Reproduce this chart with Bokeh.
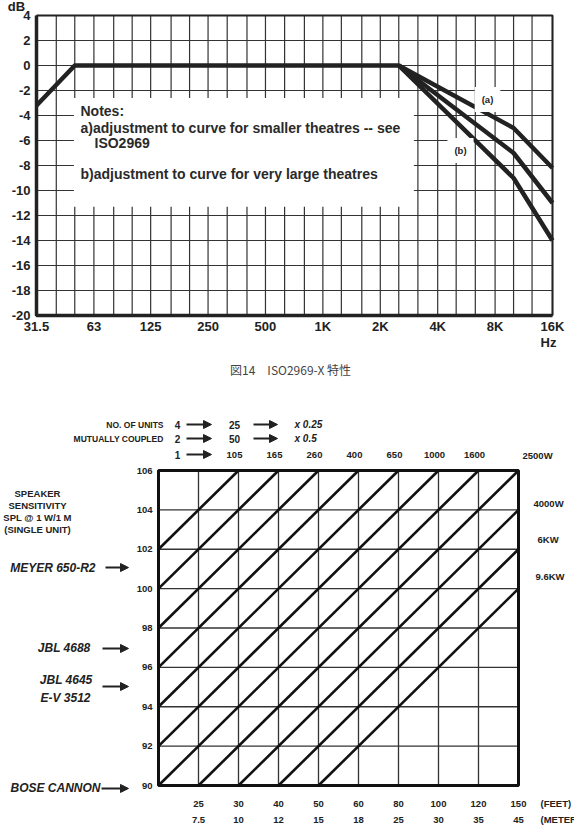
import math
from bokeh.plotting import figure
from bokeh.layouts import column
from bokeh.models import Label, Arrow, NormalHead, Range1d
from bokeh.embed import file_html
from bokeh.resources import INLINE
from bokeh.core.properties import value

# ---------------- chart 1 : ISO2969 X-curve ----------------
octave_ticks = [31.5, 63, 125, 250, 500, 1000, 2000, 4000, 8000, 16000]
octave_labels = ["31.5", "63", "125", "250", "500", "1K", "2K", "4K", "8K", "16K"]
third_octave_ticks = [40, 50, 80, 100, 160, 200, 315, 400, 630, 800, 1250, 1600,
                      2500, 3150, 5000, 6300, 10000, 12500]
db_ticks = [-20, -18, -16, -14, -12, -10, -8, -6, -4, -2, 0, 2, 4]
db_labels = [str(v) for v in db_ticks]

xcurve_freq = [31.5, 50, 2500, 10000, 16000]
xcurve_db = [-3.2, 0, 0, -7, -11]
adj_freq = [2500, 10000, 16000]
adj_a_db = [0, -5, -8.2]
adj_b_db = [0, -9, -14]

notes_lines = ["Notes:",
               "a)adjustment to curve for smaller theatres -- see",
               "ISO2969",
               "b)adjustment to curve for very large theatres"]
caption = "図14　ISO2969-X 特性"

# ---------------- chart 2 : power / distance nomogram ----------------
sens_ticks = [90, 92, 94, 96, 98, 100, 102, 104, 106]
sens_labels = [str(v) for v in sens_ticks]
grid_cols = [0, 1, 2, 3, 4, 5, 6, 7, 8, 9]
dist_cols = [1, 2, 3, 4, 5, 6, 7, 8, 9]
dist_feet = ["25", "30", "40", "50", "60", "80", "100", "120", "150"]
dist_m = ["7.5", "10", "12", "15", "18", "25", "30", "35", "45"]
power_cols = [2, 3, 4, 5, 6, 7, 8]
power_single = ["105", "165", "260", "400", "650", "1000", "1600"]
power_right = ["2500W", "4000W", "6KW", "9.6KW"]
diag_offsets = [82, 84, 86, 88, 90, 92, 94, 96, 98, 100, 102]  # lines y = 2*x + k
speakers = ["MEYER 650-R2", "JBL 4688", "JBL 4645", "E-V 3512", "BOSE CANNON"]
speaker_sens = [101.07, 96.96, 95.38, 94.42, 89.85]
speaker_has_arrow = [True, True, True, False, True]
units_counts = ["4", "2", "1"]
units_mid = ["25", "50"]
units_factor = ["x 0.25", "x 0.5"]
sens_title = ["SPEAKER", "SENSITIVITY", "SPL @ 1 W/1 M", "(SINGLE UNIT)"]

FONT = "Liberation Sans"
INK = "#222222"
GRID = "#333333"


def txt(p, xs, ys, texts, size, style="bold", align="left", baseline="middle",
        font=FONT, color=INK):
    p.text(x=xs, y=ys, text=texts, text_font=value(font),
           text_font_size=f"{size}px", text_font_style=style,
           text_align=align, text_baseline=baseline, text_color=color)


def arrow(p, xa, xb, y):
    p.add_layout(Arrow(end=NormalHead(size=8, fill_color=INK, line_color=INK,
                                      line_width=1),
                       x_start=xa, y_start=y, x_end=xb, y_end=y,
                       line_width=2, line_color=INK))


# ======== figure 1 geometry (page pixels of the plot box) ========
W = 574
H1, H2 = 395, 442
X0, X1, Y0, Y1 = 36, 552, 15, 315
F0, F1, D0, D1 = octave_ticks[0], octave_ticks[-1], db_ticks[0], db_ticks[-1]
ppo = (X1 - X0) / math.log2(F1 / F0)


def fx(px):
    return F0 * 2 ** ((px - X0) / ppo)


def fy(py):
    return D1 - (py - Y0) * (D1 - D0) / (Y1 - Y0)


p1 = figure(width=W, height=H1, x_axis_type="log",
            x_range=Range1d(fx(0), fx(W)), y_range=Range1d(fy(H1), fy(0)),
            output_backend="svg", toolbar_location=None,
            x_axis_location=None, y_axis_location=None,
            min_border=0, outline_line_color=None)
p1.grid.visible = False

all_f = sorted(octave_ticks + third_octave_ticks)
p1.segment(x0=all_f, y0=[D0] * len(all_f), x1=all_f, y1=[D1] * len(all_f),
           line_color=GRID, line_width=1.2)
p1.segment(x0=[F0] * len(db_ticks), y0=db_ticks, x1=[F1] * len(db_ticks),
           y1=db_ticks, line_color=GRID, line_width=1.2)

# white box for the notes
p1.quad(left=[49.5], right=[3000], top=[-2.6], bottom=[-11.3],
        fill_color="white", line_color=None)

# frame: heavy left/bottom, lighter top/right
p1.line([F0, F0, F1], [D1, D0, D0], line_width=3.5, line_color=INK)
p1.line([F0, F1, F1], [D1, D1, D0], line_width=2, line_color=INK)

p1.line(xcurve_freq, xcurve_db, line_width=4.5, line_color=INK, line_join="round")
p1.line(adj_freq, adj_a_db, line_width=4.5, line_color=INK, line_join="round")
p1.line(adj_freq, adj_b_db, line_width=4.5, line_color=INK, line_join="round")

# tick labels
txt(p1, octave_ticks, [fy(326)] * len(octave_ticks), octave_labels, 13, align="center")
txt(p1, [fx(30)] * len(db_ticks), db_ticks, db_labels, 13, align="right")
txt(p1, [fx(16)], [fy(6)], ["dB"], 13, align="center")
txt(p1, [fx(548)], [fy(342)], ["Hz"], 13, align="center")

# notes
txt(p1, [fx(80), fx(80), fx(94), fx(80)], [fy(110), fy(127), fy(142), fy(173)],
    notes_lines, 14, style="bold", color="#2a2a2a")

p1.add_layout(Label(x=fx(487), y=fy(99), text="(a)", text_font=FONT,
                    text_font_size="9.5px", text_font_style="bold",
                    text_align="center", text_baseline="middle",
                    text_color=INK, background_fill_color="white", padding=7))
p1.add_layout(Label(x=fx(460), y=fy(150), text="(b)", text_font=FONT,
                    text_font_size="9.5px", text_font_style="bold",
                    text_align="center", text_baseline="middle",
                    text_color=INK, background_fill_color="white", padding=7))

txt(p1, [fx(290)], [fy(369)], [caption], 12, style="normal", align="center",
    font="Noto Sans CJK JP", color="#444444")

# ======== figure 2 geometry ========
GX0, GX1, GY0, GY1 = 158, 518, 470, 785    # page pixels of the plot box
C0, C1 = grid_cols[0], grid_cols[-1]
S0, S1 = sens_ticks[0], sens_ticks[-1]
TOP2 = H1                                  # page y where figure 2 starts


def gx(px):
    return C0 + (px - GX0) * (C1 - C0) / (GX1 - GX0)


def gy(py):
    return S1 - (py - GY0) * (S1 - S0) / (GY1 - GY0)


p2 = figure(width=W, height=H2,
            x_range=Range1d(gx(0), gx(W)), y_range=Range1d(gy(TOP2 + H2), gy(TOP2)),
            output_backend="svg", toolbar_location=None,
            x_axis_location=None, y_axis_location=None,
            min_border=0, outline_line_color=None)
p2.grid.visible = False

p2.segment(x0=grid_cols, y0=[S0] * len(grid_cols), x1=grid_cols,
           y1=[S1] * len(grid_cols), line_color=GRID, line_width=1.3)
p2.segment(x0=[C0] * len(sens_ticks), y0=sens_ticks, x1=[C1] * len(sens_ticks),
           y1=sens_ticks, line_color=GRID, line_width=1.3)

# diagonal constant-power lines clipped to the box
xs0, ys0, xs1, ys1 = [], [], [], []
for k in diag_offsets:
    xa = max(C0, (S0 - k) / 2.0)
    xb = min(C1, (S1 - k) / 2.0)
    xs0.append(xa); ys0.append(2 * xa + k)
    xs1.append(xb); ys1.append(2 * xb + k)
p2.segment(x0=xs0, y0=ys0, x1=xs1, y1=ys1, line_width=2.6, line_color="#111111")

p2.quad(left=[C0], right=[C1], bottom=[S0], top=[S1], fill_color=None,
        line_color="#111111", line_width=3)

# axis labels
txt(p2, [gx(152)] * len(sens_ticks), sens_ticks, sens_labels, 9.5, align="right")
txt(p2, dist_cols, [gy(803)] * len(dist_cols), dist_feet, 9.5, align="center")
txt(p2, dist_cols, [gy(819)] * len(dist_cols), dist_m, 9.5, align="center")
txt(p2, [c - 0.1 for c in power_cols], [gy(454)] * len(power_cols), power_single,
    9.5, align="center")
txt(p2, [gx(540)], [gy(803)], ["(FEET)"], 9.5)
txt(p2, [gx(540)], [gy(819)], ["(METERS)"], 9.5)

# right-hand power labels
txt(p2, [gx(522), gx(533), gx(537), gx(535)],
    [gy(455), gy(503), gy(539), gy(576)], power_right, 9.5)

# mutually coupled rows
txt(p2, [gx(163), gx(163)], [gy(424), gy(438)], ["NO. OF UNITS", "MUTUALLY COUPLED"],
    8.5, align="right")
row_y = [gy(424), gy(438), gy(454)]
txt(p2, [gx(177)] * 3, row_y, units_counts, 10, align="center")
txt(p2, [gx(234)] * 2, row_y[:2], units_mid, 10, align="center")
txt(p2, [gx(294)] * 2, row_y[:2], units_factor, 10, style="bold italic")
for yy in row_y:
    arrow(p2, gx(186), gx(211), yy)
for yy in row_y[:2]:
    arrow(p2, gx(253), gx(277), yy)

# sensitivity title
txt(p2, [gx(37)] * 4, [gy(493), gy(505), gy(517), gy(529)], sens_title, 9.5,
    align="center")

# speakers
txt(p2, [gx(95), gx(90), gx(92), gx(90), gx(100)], speaker_sens, speakers, 12,
    style="bold italic", align="right")
arrow_y = [speaker_sens[0], speaker_sens[1], gy(686), None, speaker_sens[4]]
arrow_x = [gx(105), gx(102), gx(102), None, gx(101)]
for has, xa, ya in zip(speaker_has_arrow, arrow_x, arrow_y):
    if has:
        arrow(p2, xa, gx(128), ya)

layout = column(p1, p2, spacing=0)
open("out.html", "w").write(file_html(layout, INLINE))
